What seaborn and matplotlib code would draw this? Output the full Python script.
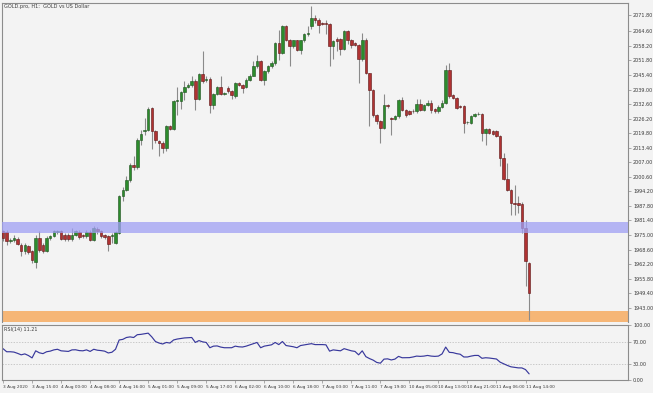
import matplotlib
matplotlib.use('Agg')
import matplotlib.pyplot as plt
import seaborn as sns
import numpy as np

# Graph settings
sns.set_style('white')
plt.rcParams['font.family'] = ['DejaVu Sans']

# GOLD H1 candles, 3 Aug 2020 .. 11 Aug 14:00
opens = [1976.6, 1976.3, 1972.2, 1972.9, 1973.4, 1970.7, 1967.8, 1970.0, 1967.8, 1963.0,
         1973.7, 1970.7, 1967.8, 1973.7, 1974.4, 1976.3, 1976.6, 1975.1, 1975.1, 1973.4,
         1975.1, 1976.3, 1975.1, 1974.4, 1976.3, 1972.9, 1977.7, 1976.6, 1975.1, 1974.4,
         1974.4, 1971.5, 1975.9, 1992.0, 1994.9, 1999.3, 2005.9, 2004.9, 2016.9, 2020.6,
         2021.0, 2030.9, 2020.6, 2016.2, 2015.5, 2013.3, 2022.8, 2021.6, 2033.8, 2033.8,
         2037.8, 2040.1, 2041.1, 2042.9, 2035.0, 2046.0, 2043.0, 2043.8, 2032.0, 2037.1,
         2040.1, 2037.1, 2039.7, 2038.2, 2036.0, 2041.9, 2041.1, 2040.1, 2043.3, 2045.1,
         2049.2, 2051.4, 2043.3, 2047.0, 2049.2, 2050.7, 2059.5, 2055.1, 2067.1, 2060.9,
         2058.0, 2060.6, 2056.5, 2060.6, 2063.4, 2067.1, 2070.5, 2069.7, 2068.3, 2068.3,
         2068.0, 2058.0, 2061.2, 2061.2, 2057.0, 2064.7, 2060.9, 2059.3, 2058.5, 2052.4,
         2060.9, 2046.3, 2038.9, 2027.9, 2025.0, 2022.1, 2032.3, 2026.5, 2026.2, 2027.2,
         2034.5, 2030.1, 2029.7, 2029.7, 2029.4, 2032.8, 2030.1, 2032.3, 2033.3, 2030.3,
         2029.6, 2031.3, 2033.1, 2047.7, 2036.7, 2035.3, 2031.6, 2031.8, 2024.6, 2024.5,
         2027.5, 2028.2, 2028.2, 2019.9, 2021.6, 2020.6, 2020.6, 2018.7, 2008.9, 1999.6,
         1994.9, 1989.1, 1989.1, 1988.8, 1978.1, 1962.5]
highs = [1977.0, 1977.0, 1973.7, 1975.0, 1974.0, 1971.5, 1971.5, 1970.7, 1968.5, 1975.0,
         1976.6, 1971.5, 1974.4, 1975.1, 1977.3, 1977.3, 1977.3, 1976.0, 1976.0, 1978.1,
         1977.3, 1977.0, 1975.5, 1977.0, 1977.3, 1979.0, 1978.5, 1977.0, 1975.5, 1975.0,
         1976.0, 1976.6, 1992.6, 1996.3, 2000.8, 2006.6, 2009.6, 2017.5, 2021.3, 2026.5,
         2031.3, 2031.3, 2021.0, 2016.9, 2016.2, 2023.2, 2023.5, 2034.5, 2040.1, 2038.5,
         2042.6, 2042.0, 2044.8, 2043.5, 2046.5, 2055.8, 2045.0, 2044.4, 2037.5, 2040.6,
         2044.8, 2038.0, 2040.5, 2038.6, 2042.5, 2042.3, 2041.5, 2044.3, 2045.8, 2051.4,
         2054.3, 2052.0, 2047.5, 2049.7, 2051.4, 2060.0, 2065.3, 2067.5, 2067.5, 2061.3,
         2061.0, 2061.0, 2061.0, 2064.0, 2066.8, 2075.6, 2071.9, 2070.3, 2068.8, 2069.7,
         2068.5, 2061.0, 2062.0, 2061.5, 2065.2, 2065.0, 2061.3, 2059.8, 2059.0, 2064.1,
         2061.5, 2046.5, 2039.2, 2028.3, 2025.5, 2037.1, 2032.8, 2027.0, 2028.0, 2035.0,
         2035.9, 2030.5, 2030.2, 2030.3, 2035.0, 2035.0, 2032.8, 2034.5, 2034.5, 2030.8,
         2032.0, 2034.5, 2049.9, 2050.8, 2037.2, 2035.6, 2032.0, 2032.3, 2025.3, 2028.0,
         2028.8, 2029.0, 2028.6, 2022.0, 2022.0, 2021.0, 2021.3, 2019.0, 2011.3, 2006.7,
         1995.3, 1997.1, 1992.0, 1989.5, 1981.5, 1963.0]
lows = [1972.2, 1970.7, 1971.5, 1972.0, 1970.5, 1965.6, 1966.5, 1966.5, 1962.7, 1960.5,
        1967.5, 1967.0, 1967.5, 1972.9, 1974.0, 1975.5, 1972.9, 1972.5, 1972.2, 1972.5,
        1974.4, 1973.4, 1973.7, 1973.7, 1972.2, 1972.2, 1975.5, 1973.7, 1973.4, 1967.8,
        1971.5, 1971.0, 1975.3, 1989.8, 1994.2, 1998.5, 2003.8, 2004.2, 2014.7, 2019.0,
        2020.6, 2012.8, 2015.5, 2009.6, 2011.3, 2012.0, 2021.0, 2021.0, 2028.0, 2030.5,
        2034.5, 2039.5, 2040.1, 2030.1, 2034.5, 2042.0, 2042.5, 2028.7, 2030.5, 2036.4,
        2036.5, 2036.6, 2037.5, 2034.8, 2035.5, 2040.5, 2037.5, 2039.5, 2042.6, 2044.8,
        2048.5, 2042.6, 2041.1, 2046.5, 2048.5, 2050.0, 2052.1, 2054.5, 2060.3, 2049.2,
        2057.5, 2056.0, 2054.5, 2060.0, 2062.4, 2065.6, 2068.5, 2063.9, 2067.5, 2063.4,
        2049.5, 2052.4, 2055.8, 2054.3, 2056.5, 2059.0, 2057.5, 2058.0, 2042.1, 2051.5,
        2046.0, 2022.8, 2027.0, 2024.0, 2015.5, 2021.5, 2031.0, 2019.1, 2025.5, 2026.5,
        2029.5, 2027.0, 2027.8, 2028.8, 2028.8, 2029.6, 2029.6, 2031.8, 2028.7, 2028.6,
        2028.5, 2030.8, 2032.8, 2035.5, 2034.8, 2030.3, 2030.8, 2019.9, 2024.0, 2024.0,
        2027.0, 2027.8, 2016.2, 2014.7, 2019.4, 2019.2, 2018.2, 2005.2, 1999.2, 1994.5,
        1983.9, 1983.9, 1984.7, 1976.0, 1952.4, 1937.7]
closes = [1973.7, 1972.2, 1972.9, 1973.7, 1971.2, 1967.8, 1970.7, 1967.4, 1963.8, 1973.7,
          1968.5, 1967.8, 1973.7, 1974.4, 1976.6, 1976.6, 1973.4, 1973.4, 1973.4, 1975.1,
          1976.6, 1974.0, 1974.4, 1976.3, 1972.9, 1978.1, 1976.6, 1974.4, 1974.0, 1971.2,
          1975.1, 1976.3, 1992.0, 1994.9, 1999.3, 2005.9, 2004.9, 2016.9, 2019.6, 2021.0,
          2030.6, 2020.6, 2016.9, 2015.5, 2013.3, 2022.8, 2021.6, 2033.8, 2034.2, 2037.8,
          2040.1, 2041.0, 2042.9, 2035.0, 2046.0, 2042.9, 2043.8, 2032.0, 2037.1, 2040.1,
          2037.1, 2037.5, 2038.2, 2036.4, 2041.9, 2041.1, 2039.7, 2043.3, 2045.1, 2049.2,
          2051.4, 2043.3, 2047.0, 2049.2, 2050.7, 2059.5, 2055.1, 2067.1, 2060.9, 2058.0,
          2060.6, 2056.5, 2060.6, 2063.4, 2063.9, 2070.5, 2069.4, 2067.5, 2068.0, 2068.0,
          2058.0, 2060.3, 2060.5, 2057.0, 2064.7, 2060.9, 2058.5, 2058.6, 2052.4, 2060.9,
          2046.3, 2038.9, 2027.9, 2025.0, 2022.1, 2032.3, 2031.6, 2026.2, 2027.2, 2034.5,
          2030.1, 2027.9, 2028.3, 2029.4, 2032.8, 2030.1, 2032.3, 2033.3, 2030.1, 2029.5,
          2031.3, 2033.1, 2047.7, 2036.0, 2035.3, 2030.9, 2031.3, 2024.5, 2024.9, 2027.5,
          2028.2, 2028.4, 2019.9, 2021.6, 2019.9, 2019.6, 2018.7, 2008.9, 1999.6, 1994.9,
          1989.1, 1988.8, 1988.3, 1978.1, 1963.4, 1949.5]

# RSI(14) line
rsi = [57.0, 51.4, 51.4, 50.8, 48.5, 45.8, 47.5, 44.5, 40.2, 53.1,
       49.5, 48.0, 51.4, 52.5, 54.8, 55.9, 53.1, 52.5, 52.0, 54.8,
       55.0, 53.5, 53.1, 54.8, 52.0, 55.9, 54.2, 53.5, 52.5, 49.2,
       50.5, 55.9, 72.8, 73.9, 77.3, 78.4, 77.3, 82.4, 83.0, 84.0,
       85.2, 78.4, 70.0, 67.2, 65.5, 68.3, 67.2, 72.8, 74.5, 75.6,
       76.5, 77.0, 77.3, 68.3, 71.7, 69.4, 68.3, 58.7, 61.6, 62.0,
       59.9, 58.7, 58.7, 58.7, 61.6, 60.4, 60.0, 61.6, 63.8, 66.0,
       68.3, 58.7, 61.6, 62.7, 64.0, 68.3, 64.4, 70.0, 62.7, 61.6,
       60.5, 58.7, 62.7, 63.8, 65.0, 66.1, 64.4, 64.4, 64.4, 64.0,
       52.5, 54.8, 54.0, 53.1, 57.0, 55.0, 53.1, 52.0, 45.8, 53.1,
       42.5, 39.0, 36.2, 32.0, 30.6, 38.0, 38.5, 36.5, 38.0, 43.0,
       40.5, 40.5, 40.7, 41.9, 43.5, 43.0, 43.5, 44.7, 43.5, 43.0,
       43.5, 47.5, 59.9, 50.3, 49.8, 48.0, 46.9, 41.9, 41.9, 43.5,
       44.7, 44.7, 39.5, 40.5, 40.0, 39.0, 38.2, 32.5, 29.5, 26.5,
       24.0, 23.0, 22.1, 22.0, 19.0, 11.21]

price_ticks = [1943.00, 1949.40, 1955.80, 1962.20, 1968.60, 1975.00, 1981.40, 1987.80,
               1994.20, 2000.60, 2007.00, 2013.40, 2019.80, 2026.20, 2032.60, 2039.00,
               2045.40, 2051.80, 2058.20, 2064.60, 2071.80]
rsi_ticks = [0, 30, 70, 100]
time_labels = ['3 Aug 2020', '3 Aug 15:00', '4 Aug 00:00', '4 Aug 08:00', '4 Aug 16:00',
               '5 Aug 01:00', '5 Aug 09:00', '5 Aug 17:00', '6 Aug 02:00', '6 Aug 10:00',
               '6 Aug 18:00', '7 Aug 03:00', '7 Aug 11:00', '7 Aug 19:00', '10 Aug 05:00',
               '10 Aug 13:00', '10 Aug 21:00', '11 Aug 06:00', '11 Aug 14:00']
time_bars = [0, 8, 16, 24, 32, 40, 48, 56, 64, 72, 80, 88, 96, 104, 112, 120, 128, 136, 144]

# zones
blue_zone = (1976.0, 1980.8)
orange_zone = (1936.8, 1941.7)

bg = '#f3f3f3'
axcol = '#8c8c8c'
txtcol = '#3c3c3c'

fig = plt.figure(figsize=(6.53, 3.93), dpi=100, facecolor=bg)
ax = fig.add_axes([0.003, 0.181, 0.959, 0.812], facecolor=bg)
ax2 = fig.add_axes([0.003, 0.033, 0.959, 0.140], facecolor=bg, sharex=ax)

o = np.array(opens)
h = np.array(highs)
l = np.array(lows)
c = np.array(closes)
idx = np.arange(len(o))
up = c >= o

# candles
ax.vlines(idx, l, h, color='#8a8a8a', lw=0.8, zorder=2)
body = np.maximum(np.abs(c - o), 0.25)
ax.bar(idx[up], body[up], bottom=np.minimum(o, c)[up], width=0.7,
       color='#2c8c2c', edgecolor='#1d4f1d', lw=0.4, zorder=3)
ax.bar(idx[~up], body[~up], bottom=np.minimum(o, c)[~up], width=0.7,
       color='#b03232', edgecolor='#5c1414', lw=0.4, zorder=3)

# zones
ax.axhspan(*blue_zone, color='#9f9ff4', alpha=0.75, lw=0, zorder=4)
ax.axhspan(*orange_zone, color='#f6b676', lw=0, zorder=1)

ax.set_xlim(-0.3, 172.3)
ax.set_ylim(1936.8, 2077.2)
ax.yaxis.tick_right()
ax.set_yticks(price_ticks)
ax.set_yticklabels(['%.2f' % t for t in price_ticks])
ax.tick_params(axis='y', which='both', length=2, width=0.5, color=axcol,
               labelsize=3.5, labelcolor=txtcol, pad=1.5, right=True)
ax.tick_params(axis='x', bottom=False, labelbottom=False)
ax.text(0.003, 0.995, 'GOLD.pro, H1:  GOLD vs US Dollar', transform=ax.transAxes,
        fontsize=3.6, color=txtcol, va='top', ha='left')

# RSI pane
sns.lineplot(x=idx, y=rsi, ax=ax2, color='#38389c', lw=0.85)
for lev in (30, 70):
    ax2.axhline(lev, color='#b8b8b8', lw=0.5, ls=(0, (2, 2)), zorder=0)
ax2.set_ylim(0, 100)
ax2.yaxis.tick_right()
ax2.set_yticks(rsi_ticks)
ax2.set_yticklabels(['%.2f' % t for t in rsi_ticks])
ax2.tick_params(axis='y', length=2, width=0.5, color=axcol, labelsize=3.5,
                labelcolor=txtcol, pad=1.5, right=True)
ax2.set_xticks(time_bars)
ax2.set_xticklabels(time_labels, ha='left')
ax2.tick_params(axis='x', length=2, width=0.5, color=axcol, labelsize=3.1,
                labelcolor=txtcol, pad=1.5, bottom=True)
ax2.set_ylabel('')
ax2.text(0.003, 0.96, 'RSI(14) 11.21', transform=ax2.transAxes,
         fontsize=3.5, color=txtcol, va='top', ha='left')

for a in (ax, ax2):
    for s in a.spines.values():
        s.set_color(axcol)
        s.set_linewidth(0.8)
ax.spines['bottom'].set_visible(False)

fig.savefig('out.png', dpi=100, facecolor=bg)
